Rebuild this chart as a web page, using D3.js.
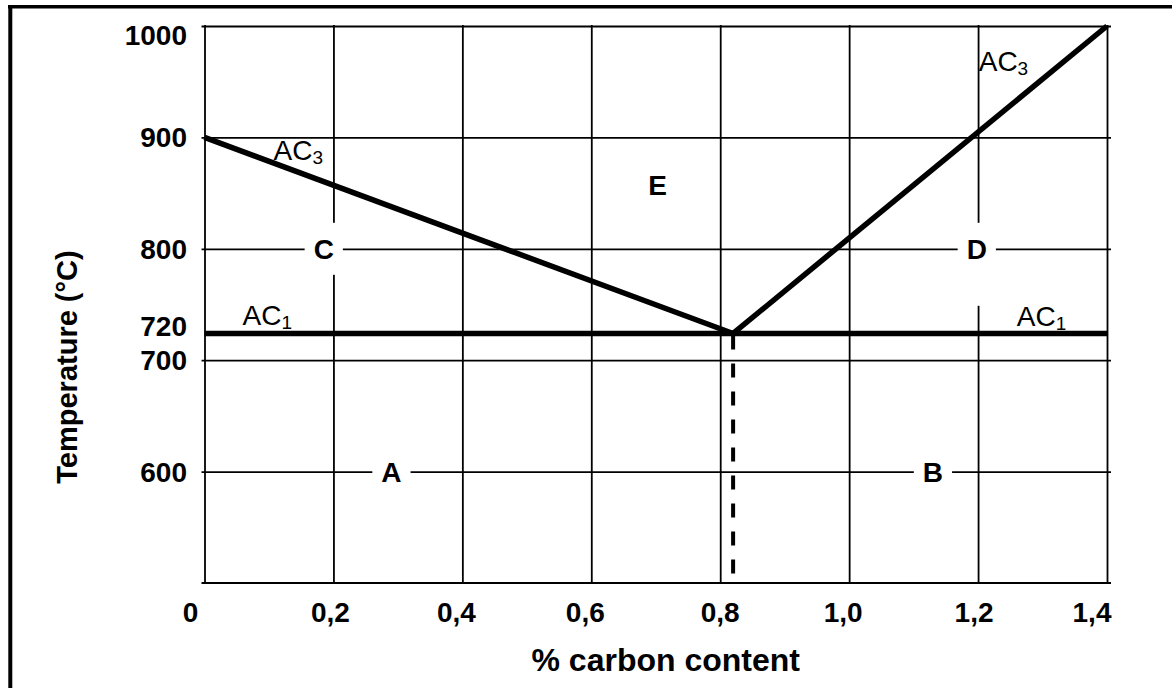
<!DOCTYPE html>
<html><head><meta charset="utf-8">
<script src="https://cdn.jsdelivr.net/npm/d3@7"></script>
<style>body{margin:0;background:#fff}svg{display:block}text{font-family:"Liberation Sans",Arial,sans-serif}</style>
</head><body><svg id="c" width="1172" height="688"></svg>
<script>
// ---------- data ----------
const xTicks = [0, 0.2, 0.4, 0.6, 0.8, 1.0, 1.2, 1.4];
const xTickLabels = ["0", "0,2", "0,4", "0,6", "0,8", "1,0", "1,2", "1,4"];
const yGrid = [600, 700, 800, 900, 1000];
const yTickValues = [600, 700, 720, 800, 900, 1000];
const yTickLabels = ["600", "700", "720", "800", "900", "1000"];
const ac3Left = [[0, 900], [0.82, 724]];
const ac3Right = [[0.82, 724], [1.4, 1000]];
const ac1 = [[0, 724], [1.4, 724]];
const eutectoid = [[0.82, 724], [0.82, 500]];
const regionNames = ["A", "B", "C", "D", "E"];
const regionX = [0.29, 1.13, 0.185, 1.198, 0.703];
const regionY = [600, 600, 800, 800, 857];
const lineLabelMain = ["AC", "AC", "AC", "AC"];
const lineLabelSub = ["3", "3", "1", "1"];
const lineLabelX = [0.107, 1.201, 0.059, 1.26];
const lineLabelY = [880, 960, 731.5, 731];
const xTitle = "% carbon content";
const yTitle = "Temperature (°C)";

// ---------- layout ----------
const svg = d3.select("#c");
const x = d3.scaleLinear().domain([0, 1.4]).range([204.5, 1107]);
const y = d3.scaleLinear().domain([500, 1000]).range([583, 26]);
const xLabelNudge = [-14, -3, -6, -6, 0, -6, -4, -15];
// white mask extents around region labels (above, below centre)
const maskUp = [26, 26, 26, 26, 26];
const maskDown = [26, 26, 26, 57, 26];

// frame (top & left visible)
svg.append("line").attr("x1", 8).attr("x2", 1172).attr("y1", 6.7).attr("y2", 6.7)
  .attr("stroke", "#000").attr("stroke-width", 3.6);
svg.append("line").attr("x1", 10.3).attr("x2", 10.3).attr("y1", 5).attr("y2", 688)
  .attr("stroke", "#000").attr("stroke-width", 4);

// vertical grid via axis
const gx = svg.append("g").attr("transform", `translate(0,${y(500)})`)
  .call(d3.axisBottom(x).tickValues(xTicks).tickSize(-(y(500) - y(1000) + 1)).tickFormat("").tickSizeOuter(0));
gx.select(".domain").remove();
gx.selectAll("line").attr("stroke", "#000").attr("stroke-width", 1.8);

// horizontal grid via axis
const gy = svg.append("g").attr("transform", `translate(${x(0) - 3},0)`)
  .call(d3.axisLeft(y).tickValues(yGrid).tickSize(-(x(1.4) - x(0) + 7)).tickFormat("").tickSizeOuter(0));
gy.select(".domain").remove();
gy.selectAll("line").attr("stroke", "#000").attr("stroke-width", 1.8);

// bottom baseline
svg.append("line").attr("x1", x(0) - 3).attr("x2", x(1.4) + 4).attr("y1", y(500)).attr("y2", y(500))
  .attr("stroke", "#000").attr("stroke-width", 1.8);

// region labels with white masks
const reg = svg.append("g");
regionNames.forEach((n, i) => {
  const g = reg.append("g");
  const t = g.append("text").attr("x", x(regionX[i])).attr("y", y(regionY[i]) + 10)
    .attr("text-anchor", "middle").attr("font-size", 28).attr("font-weight", "bold").text(n);
  const b = t.node().getBBox();
  g.insert("rect", "text").attr("x", b.x - 9).attr("y", y(regionY[i]) - maskUp[i])
    .attr("width", b.width + 18).attr("height", maskUp[i] + maskDown[i]).attr("fill", "#fff");
});

// thick lines
const line = d3.line().x(d => x(d[0])).y(d => y(d[1]));
[ac3Left, ac3Right, ac1].forEach(d => {
  svg.append("path").attr("d", line(d)).attr("fill", "none").attr("stroke", "#000")
    .attr("stroke-width", 5.5).attr("stroke-linejoin", "miter");
});
svg.append("path").attr("d", line(eutectoid)).attr("fill", "none").attr("stroke", "#000")
  .attr("stroke-width", 4).attr("stroke-dasharray", "14,14").attr("stroke-dashoffset", 26);

// line labels
lineLabelMain.forEach((m, i) => {
  const t = svg.append("text").attr("x", x(lineLabelX[i])).attr("y", y(lineLabelY[i]))
    .attr("font-size", 28);
  t.append("tspan").text(m);
  t.append("tspan").attr("font-size", 19).attr("dy", 4).text(lineLabelSub[i]);
});

// x tick labels
xTicks.forEach((v, i) => {
  svg.append("text").attr("x", x(v) + xLabelNudge[i]).attr("y", 622)
    .attr("text-anchor", "middle").attr("font-size", 28).attr("font-weight", "bold")
    .text(xTickLabels[i]);
});

// y tick labels with simple collision avoidance
let lastC = Infinity;
yTickValues.forEach((v, i) => {
  let c = y(v);
  if (lastC - c < 34) c = lastC - 34;
  c = Math.max(c, 35);
  lastC = c;
  svg.append("text").attr("x", 187).attr("y", c + 10)
    .attr("text-anchor", "end").attr("font-size", 28).attr("font-weight", "bold")
    .text(yTickLabels[i]);
});

// axis titles
svg.append("text").attr("x", (x(0) + x(1.4)) / 2 + 10).attr("y", 671)
  .attr("text-anchor", "middle").attr("font-size", 32).attr("font-weight", "bold").text(xTitle);
svg.append("text").attr("transform", "translate(77,367) rotate(-90)")
  .attr("text-anchor", "middle").attr("font-size", 29).attr("font-weight", "bold").text(yTitle);
</script></body></html>
